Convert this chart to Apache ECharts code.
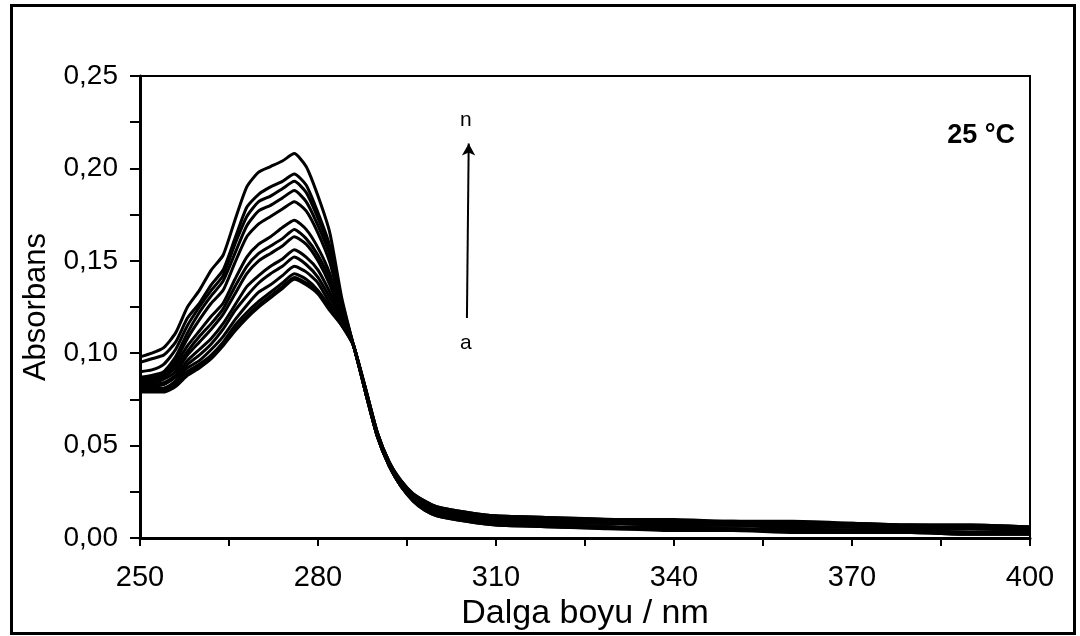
<!DOCTYPE html>
<html>
<head>
<meta charset="utf-8">
<script src="https://cdn.jsdelivr.net/npm/echarts@6/dist/echarts.min.js"></script>
<style>
  html, body { margin: 0; padding: 0; background: #fff; }
  #chart { width: 1080px; height: 636px; }
</style>
</head>
<body>
<div id="chart"></div>
<script>
const wavelengths = [250, 252, 254, 256, 258, 260, 262, 264, 266, 268, 270, 272, 274, 276, 278, 280, 282, 284, 286,
    288, 290, 292, 294, 296, 298, 300, 305, 310, 320, 330, 340, 350, 360, 370, 380, 390, 400];

// one array per spectrum, a (lowest) .. n (highest)
const absA = [.079, .079, .079, .082, .088, .092, .097, .104, .112, .119, .125, .130, .135, .140, .137, .132, .123, .115, .104,
    .079, .055, .039, .028, .020, .015, .012, .009, .007, .006, .005, .004, .004, .003, .003, .003, .002, .002];
const absB = [.080, .080, .080, .083, .089, .093, .098, .105, .113, .120, .126, .131, .136, .141, .138, .133, .124, .115, .104,
    .080, .056, .040, .029, .022, .018, .015, .012, .010, .009, .008, .007, .007, .006, .006, .005, .005, .005];
const absC = [.080, .080, .081, .084, .090, .094, .099, .106, .115, .122, .128, .133, .138, .143, .140, .134, .125, .116, .104,
    .079, .055, .039, .028, .021, .017, .014, .011, .009, .007, .006, .005, .005, .004, .004, .003, .003, .003];
const absD = [.080, .081, .081, .085, .092, .096, .102, .109, .118, .126, .133, .137, .142, .147, .144, .138, .127, .117, .104,
    .081, .057, .041, .031, .024, .020, .017, .014, .012, .011, .010, .010, .009, .009, .008, .007, .007, .006];
const absE = [.081, .082, .083, .087, .094, .099, .105, .113, .123, .131, .138, .143, .147, .152, .148, .141, .130, .118, .104,
    .080, .056, .040, .029, .022, .018, .015, .012, .010, .009, .008, .007, .007, .006, .006, .005, .005, .004];
const absF = [.082, .083, .084, .088, .096, .102, .108, .116, .126, .136, .142, .147, .151, .156, .152, .145, .133, .119, .104,
    .079, .055, .039, .028, .020, .015, .012, .009, .007, .006, .005, .005, .004, .004, .003, .003, .002, .002];
const absG = [.083, .084, .086, .090, .099, .106, .113, .121, .132, .143, .150, .154, .158, .163, .159, .150, .137, .120, .104,
    .081, .057, .041, .031, .024, .020, .017, .014, .012, .011, .010, .009, .009, .008, .008, .007, .007, .006];
const absH = [.084, .085, .087, .092, .101, .109, .116, .124, .136, .147, .154, .158, .162, .167, .162, .153, .140, .121, .104,
    .080, .056, .040, .029, .022, .018, .015, .012, .010, .008, .008, .007, .007, .006, .006, .005, .005, .005];
const absI = [.085, .086, .088, .094, .104, .112, .120, .127, .140, .152, .159, .163, .168, .172, .167, .157, .143, .122, .104,
    .079, .055, .039, .028, .021, .016, .013, .010, .008, .007, .006, .005, .005, .004, .004, .004, .003, .003];
const absJ = [.086, .087, .089, .096, .108, .118, .127, .134, .149, .163, .170, .174, .178, .182, .177, .165, .149, .124, .104,
    .081, .057, .041, .030, .023, .019, .016, .013, .011, .010, .009, .009, .008, .008, .007, .007, .006, .006];
const absK = [.087, .088, .090, .098, .111, .122, .131, .139, .154, .169, .177, .180, .184, .188, .182, .169, .153, .126, .104,
    .080, .056, .040, .029, .022, .018, .015, .012, .010, .008, .008, .007, .007, .006, .006, .005, .005, .004];
const absL = [.090, .091, .094, .102, .115, .125, .134, .142, .159, .174, .182, .185, .189, .193, .187, .173, .156, .127, .104,
    .079, .055, .039, .028, .021, .017, .014, .011, .009, .007, .006, .006, .005, .005, .004, .004, .003, .003];
const absM = [.095, .097, .099, .106, .119, .127, .137, .145, .162, .179, .186, .190, .193, .197, .191, .176, .158, .128, .104,
    .081, .057, .041, .030, .023, .019, .016, .013, .011, .010, .009, .008, .008, .007, .007, .006, .006, .005];
const absN = [.098, .100, .103, .111, .125, .134, .145, .153, .172, .190, .198, .201, .204, .208, .201, .185, .165, .130, .104,
    .080, .056, .040, .029, .022, .018, .015, .012, .010, .009, .008, .007, .007, .006, .006, .005, .005, .005];

const spectra = [absA, absB, absC, absD, absE, absF, absG, absH, absI, absJ, absK, absL, absM, absN];

const xTicks = [250, 280, 310, 340, 370, 400];
const yTicks = [0, 0.05, 0.10, 0.15, 0.20, 0.25];

const font = 'Liberation Sans, Arial, sans-serif';

const chart = echarts.init(document.getElementById('chart'));

const series = spectra.map((vals, i) => ({
    type: 'line',
    data: wavelengths.map((w, j) => [w, vals[j]]),
    showSymbol: false,
    smooth: 0.2,
    lineStyle: {color: '#000', width: 3},
    silent: true
}));

// arrow a -> n
series.push({
    type: 'line',
    data: [],
    markLine: {
        silent: true,
        symbol: ['none', 'arrow'],
        symbolSize: [10, 12],
        label: {show: false},
        lineStyle: {color: '#000', width: 2, type: 'solid'},
        data: [[{coord: [305.1, 0.119]}, {coord: [305.4, 0.2135]}]]
    }
});

const option = {
    animation: false,
    backgroundColor: '#fff',
    grid: {
        left: 140, right: 50, top: 76, bottom: 98,
        show: true, borderColor: '#000', borderWidth: 2, backgroundColor: 'transparent'
    },
    xAxis: {
        type: 'value',
        min: xTicks[0], max: xTicks[xTicks.length - 1], interval: 30,
        name: 'Dalga boyu / nm',
        nameLocation: 'middle',
        nameGap: 57,
        nameTextStyle: {fontFamily: font, fontSize: 34, color: '#000'},
        axisLine: {lineStyle: {color: '#000', width: 3}},
        axisTick: {length: 8, lineStyle: {color: '#000', width: 2}},
        minorTick: {show: true, splitNumber: 2, length: 8, lineStyle: {color: '#000', width: 2}},
        splitLine: {show: false},
        axisLabel: {fontFamily: font, fontSize: 29, color: '#000', margin: 25}
    },
    yAxis: {
        type: 'value',
        min: yTicks[0], max: yTicks[yTicks.length - 1], interval: 0.05,
        name: 'Absorbans',
        nameLocation: 'middle',
        nameGap: 88,
        nameTextStyle: {fontFamily: font, fontSize: 31, color: '#000'},
        axisLine: {show: true, lineStyle: {color: '#000', width: 3}},
        axisTick: {show: true, length: 10, lineStyle: {color: '#000', width: 2}},
        minorTick: {show: true, splitNumber: 2, length: 10, lineStyle: {color: '#000', width: 2}},
        splitLine: {show: false},
        axisLabel: {
            fontFamily: font, fontSize: 28, color: '#000', margin: 22,
            formatter: v => v.toFixed(2).replace('.', ',')
        }
    },
    graphic: [
        {
            type: 'rect', silent: true, z: 100,
            shape: {x: 11.5, y: 5.5, width: 1063, height: 628},
            style: {fill: 'none', stroke: '#000', lineWidth: 3}
        },
        {
            type: 'text', right: 65, top: 122, silent: true,
            style: {text: '25 °C', font: 'bold 27px ' + font, fill: '#000'}
        },
        {
            type: 'text', left: 460, top: 110, silent: true,
            style: {text: 'n', font: '21px ' + font, fill: '#000'}
        },
        {
            type: 'text', left: 460, top: 333, silent: true,
            style: {text: 'a', font: '21px ' + font, fill: '#000'}
        }
    ],
    series: series
};

chart.setOption(option);
</script>
</body>
</html>
